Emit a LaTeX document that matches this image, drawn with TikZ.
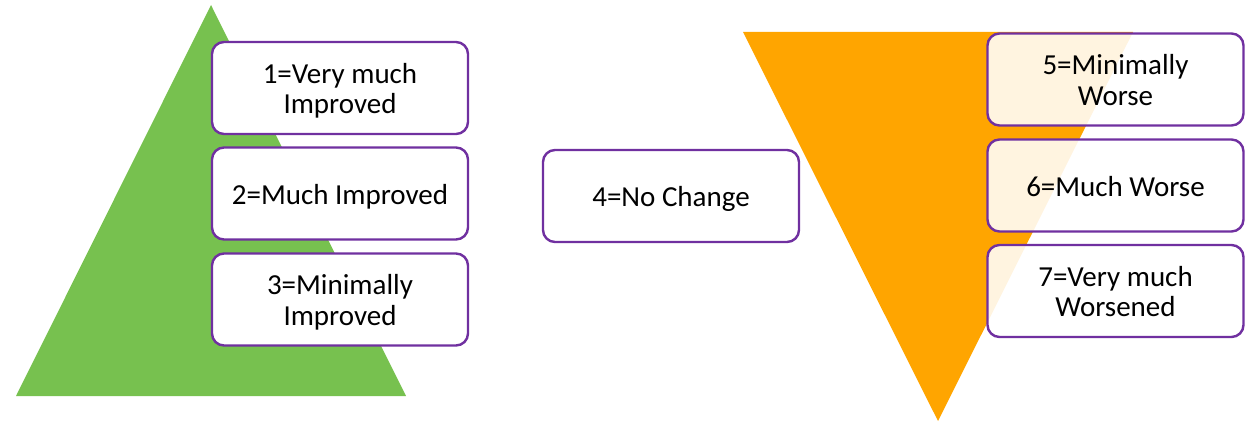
\documentclass[tikz,border=0pt]{standalone}
\usepackage{fontspec}
\setmainfont{Carlito}
\definecolor{tgreen}{HTML}{77C14F}
\definecolor{torange}{HTML}{FFA500}
\definecolor{bpurple}{HTML}{7030A0}
\newcommand{\boxtext}[1]{\raisebox{-4.5pt}[\height][\depth]{\begin{tabular}{@{}c@{}}#1\end{tabular}}}
\tikzset{
  box/.style={draw=bpurple, line width=2.4pt, rounded corners=12pt, fill=white,
    minimum width=256pt, minimum height=92pt, inner sep=0pt,
    font=\fontsize{29}{30.5}\selectfont, text=black},
  tbox/.style={box, fill opacity=0.88, text opacity=1}
}
\begin{document}
\begin{tikzpicture}[x=1pt,y=-1pt]
\useasboundingbox (0,0) rectangle (1255,422);
\fill[tgreen] (16,396) -- (211,5) -- (406,396) -- cycle;
\fill[torange] (743,32) -- (1133,32) -- (938,421) -- cycle;
\node[box] (b1) at (340,88) {\boxtext{1=Very much\\Improved}};
\node[box] (b2) at (340,193.5) {\boxtext{2=Much Improved}};
\node[box] (b3) at (340,299.5) {\boxtext{3=Minimally\\Improved}};
\node[box] (b4) at (671,196) {\boxtext{4=No Change}};
\node[tbox] (b5) at (1115.5,79.5) {\boxtext{5=Minimally\\Worse}};
\node[tbox] (b6) at (1115.5,185.5) {\boxtext{6=Much Worse}};
\node[tbox] (b7) at (1115.5,291) {\boxtext{7=Very much\\Worsened}};
\end{tikzpicture}
\end{document}
